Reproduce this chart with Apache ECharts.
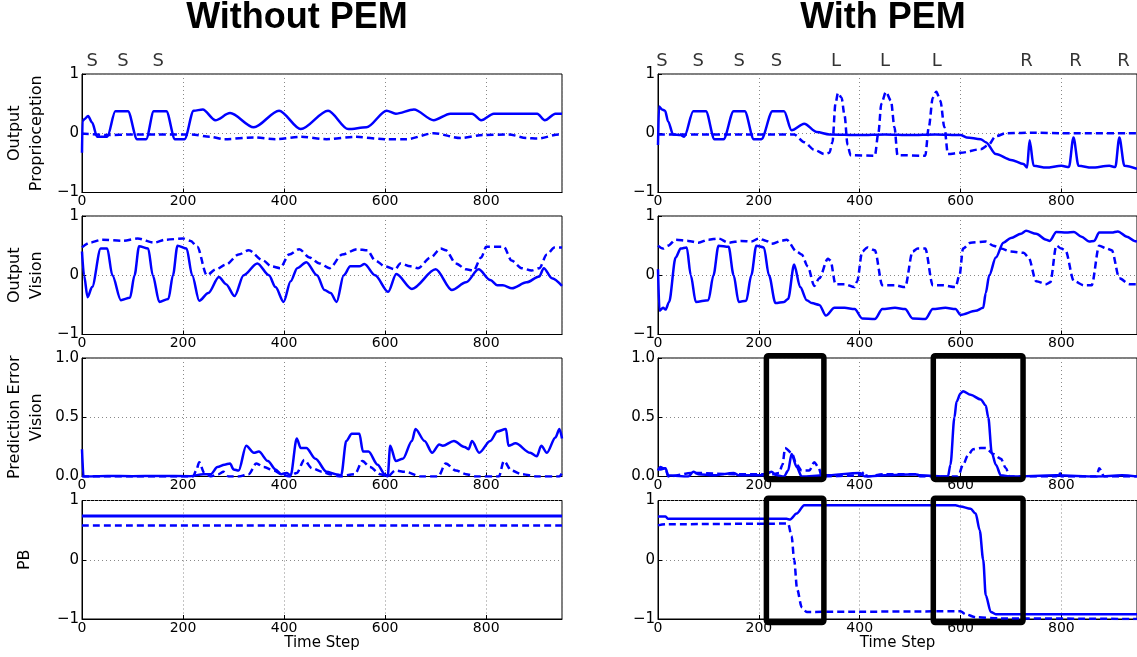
<!DOCTYPE html>
<html><head><meta charset="utf-8">
<script src="https://cdn.jsdelivr.net/npm/echarts@6/dist/echarts.min.js"></script>
<style>html,body{margin:0;padding:0;background:#fff}#c{width:1137px;height:657px}</style>
</head><body><div id="c"></div>
<script>
// ---------- data ----------
const columnTitles = ['Without PEM', 'With PEM'];
const rowNames = ['Output\nProprioception', 'Output\nVision', 'Prediction Error\nVision', 'PB'];
const xTicks = [0, 200, 400, 600, 800];
const leftMotionLabels = ['S', 'S', 'S'];
const leftMotionX = [20, 81, 151];
const rightMotionLabels = ['S', 'S', 'S', 'S', 'L', 'L', 'L', 'R', 'R', 'R'];
const rightMotionX = [8, 80, 161, 235, 353, 450, 553, 731, 828, 923];
const boxX = [[215, 329], [546, 724]];
const boxYRow3 = [-0.025, 1.02];
const boxYRow4 = [-1.06, 1.04];

const L1s = [[0,-0.33],[1,0.2],[5,0.24],[12,0.29],[20,0.18],[30,-0.06],[50,-0.06],[66,0.37],[91,0.37],[109,-0.1],[127,-0.1],[142,0.37],[167,0.37],[184,-0.1],[203,-0.1],[221,0.38],[239,0.4],[264,0.22],[293,0.34],[340,0.1],[390,0.38],[433,0.07],[487,0.38],[527,0.07],[563,0.1],[603,0.38],[621,0.33],[657,0.4],[696,0.22],[729,0.33],[772,0.33],[790,0.22],[815,0.33],[901,0.33],[916,0.22],[937,0.33],[950,0.33]];
const L1d = [[0,0.0],[5,-0.01],[50,-0.03],[100,-0.02],[150,-0.02],[217,-0.02],[253,-0.06],[282,-0.1],[340,-0.07],[383,-0.1],[433,-0.06],[484,-0.1],[541,-0.06],[599,-0.1],[642,-0.1],[696,0.0],[750,-0.08],[793,-0.03],[844,-0.02],[880,-0.08],[901,-0.09],[945,-0.02],[950,-0.02]];
const L2s = [[0,0.4],[4,0.0],[11,-0.37],[20,-0.2],[37,0.45],[50,0.45],[60,0.0],[77,-0.42],[95,-0.38],[104,0.0],[113,0.49],[131,0.45],[140,0.0],[153,-0.45],[171,-0.4],[180,0.0],[189,0.5],[207,0.45],[218,0.0],[232,-0.43],[250,-0.3],[271,-0.03],[285,-0.15],[302,-0.35],[320,0.0],[347,0.2],[370,0.0],[383,-0.2],[399,-0.45],[413,-0.1],[426,0.12],[444,0.22],[465,0.0],[480,-0.25],[492,-0.3],[504,-0.45],[518,0.0],[531,0.15],[549,0.15],[559,0.19],[580,0.0],[606,-0.28],[622,0.02],[653,-0.23],[700,0.1],[732,-0.25],[760,-0.12],[785,0.1],[808,-0.08],[822,-0.17],[833,-0.17],[851,-0.22],[880,-0.12],[905,-0.02],[914,0.12],[930,-0.05],[950,-0.18]];
const L2d = [[0,0.47],[15,0.55],[40,0.6],[80,0.58],[110,0.62],[143,0.55],[165,0.6],[200,0.62],[215,0.58],[228,0.48],[247,0.0],[265,0.1],[285,0.18],[310,0.35],[330,0.42],[358,0.25],[375,0.15],[392,0.12],[410,0.35],[430,0.44],[450,0.3],[470,0.2],[490,0.12],[515,0.35],[545,0.44],[565,0.42],[580,0.25],[600,0.15],[620,0.1],[630,0.2],[650,0.15],[665,0.12],[690,0.3],[710,0.45],[720,0.42],[740,0.2],[760,0.1],[775,0.08],[790,0.3],[800,0.48],[835,0.48],[850,0.25],[870,0.12],[890,0.08],[905,0.12],[920,0.35],[935,0.47],[950,0.47]];
const L3s = [[0,0.23],[3,0.0],[50,0.005],[100,0.003],[150,0.005],[215,0.003],[240,0.02],[255,0.02],[268,0.08],[282,0.1],[293,0.11],[300,0.06],[310,0.05],[325,0.26],[340,0.2],[350,0.21],[368,0.13],[383,0.06],[394,0.02],[405,0.03],[413,0.01],[425,0.32],[433,0.24],[444,0.24],[462,0.15],[484,0.04],[502,0.02],[513,0.01],[523,0.3],[534,0.36],[549,0.36],[556,0.21],[567,0.21],[585,0.1],[599,0.02],[605,0.0],[610,0.26],[621,0.13],[635,0.15],[653,0.3],[660,0.4],[678,0.3],[693,0.2],[707,0.27],[714,0.26],[736,0.3],[757,0.25],[765,0.23],[772,0.3],[786,0.2],[808,0.3],[822,0.38],[839,0.4],[844,0.26],[858,0.28],[887,0.2],[900,0.17],[909,0.26],[920,0.2],[937,0.33],[945,0.4],[950,0.32]];
const L3d = [[0,0],[220,0],[226,0.05],[232,0.12],[242,0.03],[255,0],[270,0.02],[280,0.04],[290,0],[310,0.0],[330,0.02],[345,0.11],[360,0.08],[380,0.05],[395,0.02],[410,0],[425,0.03],[440,0.14],[455,0.07],[475,0.04],[490,0.02],[510,0],[540,0.02],[555,0.13],[570,0.08],[590,0.02],[605,0],[620,0.05],[640,0.04],[670,0],[705,0],[720,0.11],[740,0.05],[760,0.02],[780,0],[825,0],[835,0.13],[850,0.05],[870,0.02],[900,0],[945,0],[950,0.03]];
const L4s = [[0,0.74],[950,0.74]];
const L4d = [[0,0.58],[950,0.58]];

const R1s = [[0,-0.2],[2,0.45],[8,0.4],[14,0.38],[20,0.2],[30,-0.02],[45,-0.03],[52,-0.06],[70,0.37],[95,0.37],[112,-0.1],[130,-0.1],[150,0.37],[172,0.37],[190,-0.1],[205,-0.1],[227,0.37],[250,0.37],[265,0.05],[290,0.16],[315,0.02],[340,-0.02],[400,-0.03],[450,-0.02],[500,-0.03],[550,-0.02],[600,-0.03],[612,-0.07],[640,-0.1],[650,-0.15],[670,-0.35],[700,-0.45],[725,-0.52],[732,-0.58],[737,-0.12],[745,-0.55],[770,-0.58],[800,-0.55],[815,-0.57],[824,-0.07],[834,-0.55],[860,-0.58],[895,-0.55],[907,-0.57],[915,-0.07],[925,-0.55],[950,-0.6]];
const R1d = [[0,-0.02],[100,-0.02],[200,-0.02],[270,-0.02],[290,-0.15],[310,-0.28],[330,-0.35],[340,-0.33],[346,-0.15],[352,0.5],[357,0.68],[364,0.6],[370,0.3],[376,-0.2],[382,-0.37],[430,-0.38],[437,0.0],[443,0.5],[452,0.7],[462,0.55],[469,0.1],[475,-0.37],[530,-0.38],[537,0.1],[545,0.6],[552,0.7],[560,0.55],[568,0.1],[575,-0.35],[600,-0.33],[640,-0.27],[655,-0.2],[670,-0.05],[690,0.0],[750,0.01],[800,0.0],[950,0.0]];
const R2s = [[0,0.1],[3,-0.6],[10,-0.55],[15,-0.58],[22,-0.45],[35,0.3],[45,0.45],[57,0.47],[65,0.0],[75,-0.45],[100,-0.42],[110,0.0],[120,0.5],[140,0.48],[150,0.0],[160,-0.45],[175,-0.43],[185,0.0],[195,0.5],[210,0.47],[220,0.0],[233,-0.47],[250,-0.45],[258,-0.4],[270,0.18],[282,-0.2],[295,-0.42],[305,-0.47],[320,-0.5],[333,-0.68],[350,-0.55],[370,-0.55],[390,-0.57],[405,-0.73],[430,-0.74],[445,-0.57],[470,-0.55],[490,-0.57],[505,-0.73],[530,-0.74],[545,-0.57],[570,-0.55],[590,-0.57],[600,-0.67],[630,-0.6],[645,-0.55],[650,-0.3],[657,0.0],[670,0.3],[685,0.55],[700,0.63],[720,0.7],[730,0.75],[750,0.7],[770,0.6],[777,0.58],[790,0.73],[810,0.72],[825,0.73],[840,0.65],[855,0.57],[865,0.58],[875,0.72],[900,0.72],[912,0.74],[930,0.65],[945,0.58],[950,0.57]];
const R2d = [[0,0.5],[10,0.45],[20,0.5],[35,0.6],[60,0.58],[80,0.55],[100,0.6],[120,0.62],[140,0.55],[165,0.58],[185,0.57],[200,0.62],[215,0.58],[225,0.53],[245,0.58],[255,0.6],[275,0.4],[285,0.35],[297,0.15],[310,-0.18],[320,-0.05],[337,0.28],[342,0.25],[352,-0.15],[370,-0.15],[390,-0.2],[395,-0.1],[405,0.4],[415,0.47],[430,0.42],[445,-0.17],[470,-0.17],[490,-0.2],[505,0.4],[515,0.45],[530,0.45],[545,-0.17],[565,-0.17],[590,-0.2],[598,0.0],[605,0.45],[620,0.55],[650,0.57],[665,0.5],[680,0.45],[700,0.4],[725,0.38],[735,0.3],[750,-0.1],[770,-0.15],[778,-0.12],[790,0.5],[800,0.45],[808,0.42],[825,-0.1],[845,-0.17],[860,-0.17],[875,0.5],[890,0.45],[900,0.42],[915,-0.05],[935,-0.15],[950,-0.15]];
const R3s = [[0,0.05],[5,0.08],[10,0.07],[15,0.07],[20,0.01],[60,0.0],[70,0.04],[80,0.02],[110,0.01],[150,0.03],[160,0.01],[210,0.01],[225,0.04],[235,0.01],[250,0.0],[258,0.05],[265,0.19],[275,0.08],[285,0.0],[330,0.01],[400,0.03],[410,0.0],[450,0.01],[510,0.02],[520,0.01],[575,0.0],[580,0.1],[588,0.5],[592,0.63],[600,0.7],[605,0.72],[620,0.69],[640,0.65],[650,0.6],[655,0.5],[662,0.2],[670,0.1],[680,0.01],[700,0.0],[790,0.01],[870,0.0],[920,0.01],[950,0.0]];
const R3d = [[0,0.07],[5,0.06],[15,0.07],[20,0.0],[70,0.03],[150,0.02],[230,0.02],[240,0.03],[247,0.1],[252,0.24],[265,0.2],[275,0.1],[285,0.05],[300,0.05],[310,0.12],[318,0.08],[325,0.0],[400,0.01],[410,0.04],[415,0.0],[450,0.02],[515,0.02],[520,0.0],[595,0.0],[605,0.1],[615,0.18],[625,0.23],[640,0.24],[650,0.24],[665,0.19],[680,0.15],[690,0.07],[697,0.0],[790,0.0],[795,0.04],[800,0.0],[870,0.0],[875,0.07],[885,0.0],[950,0.0]];
const R4s = [[0,0.73],[15,0.73],[20,0.69],[255,0.69],[262,0.68],[275,0.78],[290,0.92],[590,0.92],[600,0.9],[620,0.86],[630,0.78],[638,0.5],[645,0.0],[650,-0.6],[660,-0.88],[670,-0.92],[950,-0.92]];
const R4d = [[0,0.58],[15,0.6],[258,0.61],[265,0.4],[270,0.0],[276,-0.5],[285,-0.8],[295,-0.88],[600,-0.87],[610,-0.92],[630,-0.97],[680,-0.99],[950,-1.0]];

const seriesData = [[L1s, L1d], [R1s, R1d], [L2s, L2d], [R2s, R2d], [L3s, L3d], [R3s, R3d], [L4s, L4d], [R4s, R4d]];

// ---------- layout ----------
const FONT = 'DejaVu Sans';
const BLUE = '#0000ff';
const colLeft = [82, 658];
const colWidth = [480, 481];
const rowTop = [74, 216, 358, 500.5];
const rowH = 118.5;
const minus = v => String(v).replace('-', '\u2212');

const grids = [], xAxes = [], yAxes = [], series = [];
for (let r = 0; r < 4; r++) {
  for (let c = 0; c < 2; c++) {
    const gi = r * 2 + c;
    grids.push({left: colLeft[c], top: rowTop[r], width: colWidth[c], height: rowH,
      show: true, borderColor: '#000', borderWidth: 1, backgroundColor: 'transparent', containLabel: false});
    xAxes.push({
      type: 'value', gridIndex: gi, min: 0, max: 950, interval: 200,
      axisLine: {show: true, onZero: false, lineStyle: {color: '#000', width: 1}},
      axisTick: {show: true, inside: true, length: 4, lineStyle: {color: '#000'}},
      axisLabel: {show: true, margin: 2, fontFamily: FONT, fontSize: 14, color: '#000', showMaxLabel: false,
        formatter: v => (xTicks.indexOf(v) >= 0 ? String(v) : '')},
      splitLine: {show: true, lineStyle: {color: '#888', type: [1, 3], width: 1}},
      name: r === 3 ? 'Time Step' : '', nameLocation: 'middle', nameGap: 17,
      nameTextStyle: {fontFamily: FONT, fontSize: 15, color: '#000'}
    });
    const isErr = r === 2;
    yAxes.push({
      type: 'value', gridIndex: gi, min: isErr ? 0 : -1, max: 1, interval: isErr ? 0.5 : 1,
      axisLine: {show: true, lineStyle: {color: '#000', width: 1}},
      axisTick: {show: true, inside: true, length: 4, lineStyle: {color: '#000'}},
      axisLabel: {show: true, margin: 3, fontFamily: FONT, fontSize: 15, color: '#000',
        formatter: v => isErr ? v.toFixed(1) : minus(v)},
      splitLine: {show: true, lineStyle: {color: '#888', type: [1, 3], width: 1}},
      name: c === 0 ? rowNames[r] : '', nameLocation: 'middle', nameRotate: 90,
      nameGap: r === 3 ? 46 : 34,
      nameTextStyle: {fontFamily: FONT, fontSize: 16, lineHeight: 22, color: '#000', align: 'center'}
    });
    const [sol, das] = seriesData[gi];
    series.push({type: 'line', xAxisIndex: gi, yAxisIndex: gi, data: sol, showSymbol: false, symbol: 'none',
      smooth: 0.3, smoothMonotone: 'x', clip: true, silent: true,
      lineStyle: {color: BLUE, width: r === 3 && c === 0 ? 3 : 2.5}, z: 3});
    series.push({type: 'line', xAxisIndex: gi, yAxisIndex: gi, data: das, showSymbol: false, symbol: 'none',
      smooth: 0.3, smoothMonotone: 'x', clip: true, silent: true,
      lineStyle: {color: BLUE, width: 2.5, type: [7, 4]}, z: 3});
  }
}

// motion labels above the top row
function motionSeries(gi, labels, xs) {
  return {type: 'scatter', xAxisIndex: gi, yAxisIndex: gi, symbolSize: 0, silent: true, clip: false,
    data: xs.map((x, i) => ({value: [x, 1], label: {formatter: labels[i]}})),
    label: {show: true, position: 'top', distance: 4, fontFamily: FONT, fontSize: 18, color: '#000'}};
}
series.push(motionSeries(0, leftMotionLabels, leftMotionX));
series.push(motionSeries(1, rightMotionLabels, rightMotionX));

// highlight boxes on the right column, rows 3 and 4
function boxSeries(gi, yr) {
  return {type: 'custom', xAxisIndex: gi, yAxisIndex: gi, clip: false, silent: true, z: 10,
    data: boxX.map(b => [b[0], b[1], yr[0], yr[1]]),
    renderItem: (params, api) => {
      const p0 = api.coord([api.value(0), api.value(3)]);
      const p1 = api.coord([api.value(1), api.value(2)]);
      return {type: 'rect', shape: {x: p0[0], y: p0[1], width: p1[0] - p0[0], height: p1[1] - p0[1], r: 2},
        style: {fill: 'none', stroke: '#000', lineWidth: 5.5, lineJoin: 'round'}};
    }};
}
series.push(boxSeries(5, boxYRow3));
series.push(boxSeries(7, boxYRow4));

const titleX = [297, 883];
const graphic = columnTitles.map((t, i) => ({
  type: 'text', left: 'auto', x: titleX[i], y: 18,
  style: {text: t, x: 0, y: 0, align: 'center', verticalAlign: 'middle',
    font: 'bold 36px "Liberation Sans", Arial, sans-serif', fill: '#000'}
}));

const chart = echarts.init(document.getElementById('c'), null, {renderer: 'canvas'});
chart.setOption({
  animation: false, backgroundColor: '#fff',
  grid: grids, xAxis: xAxes, yAxis: yAxes, series: series, graphic: graphic
});
</script></body></html>
